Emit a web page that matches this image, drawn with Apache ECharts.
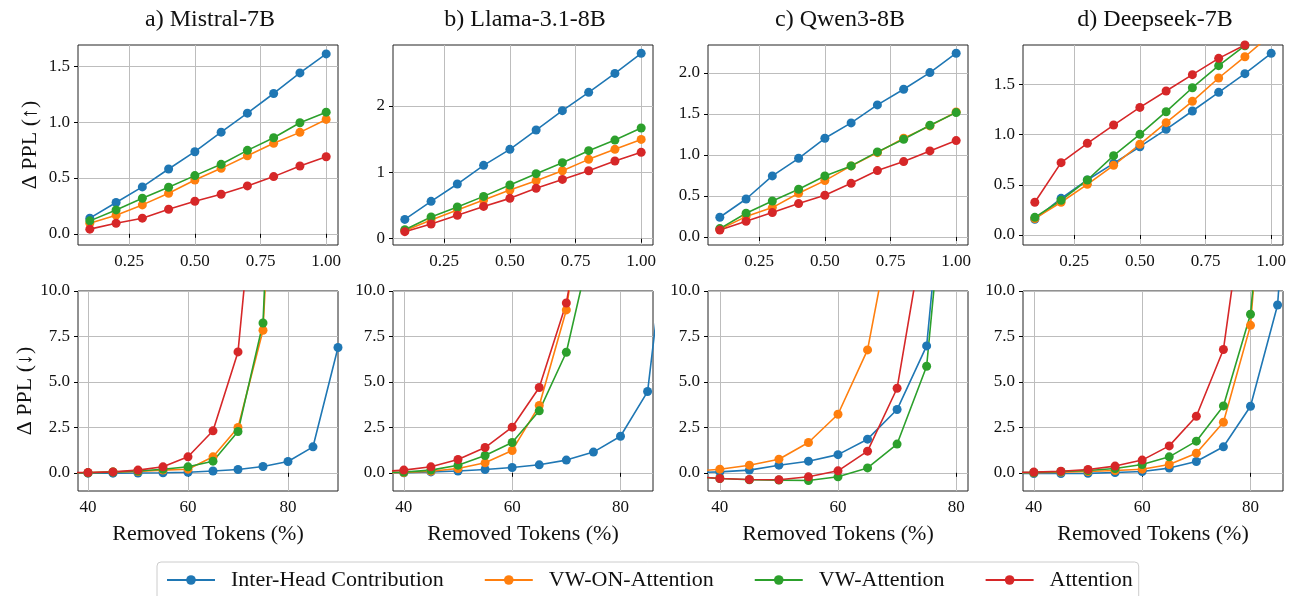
<!DOCTYPE html>
<html>
<head>
<meta charset="utf-8">
<title>PPL vs removed tokens</title>
<script src="https://cdn.jsdelivr.net/npm/echarts@6/dist/echarts.min.js"></script>
<style>
  html, body { margin: 0; padding: 0; background: #fff; }
  #main { width: 1290px; height: 596px; }
</style>
</head>
<body>
<div id="main"></div>
<script>
var FONT = "'Liberation Serif', 'DejaVu Serif', serif";
var COLORS = ['#1f77b4', '#ff7f0e', '#2ca02c', '#d62728'];

var methods = ['Inter-Head Contribution', 'VW-ON-Attention', 'VW-Attention', 'Attention'];
var models = ['a) Mistral-7B', 'b) Llama-3.1-8B', 'c) Qwen3-8B', 'd) Deepseek-7B'];

// top row x values
var topX = [0.1, 0.2, 0.3, 0.4, 0.5, 0.6, 0.7, 0.8, 0.9, 1.0];
// bottom row x values, removed tokens (%)
var bottomX = [35, 40, 45, 50, 55, 60, 65, 70, 75, 80, 85, 90];

// top row, ΔPPL (↑)
var mistralTopInter = [0.14, 0.28, 0.42, 0.58, 0.735, 0.91, 1.08, 1.256, 1.44, 1.61];
var mistralTopVwOn  = [0.095, 0.167, 0.259, 0.363, 0.482, 0.586, 0.699, 0.81, 0.908, 1.024];
var mistralTopVw    = [0.116, 0.214, 0.318, 0.417, 0.521, 0.622, 0.747, 0.86, 0.994, 1.089];
var mistralTopAttn  = [0.042, 0.095, 0.14, 0.22, 0.292, 0.354, 0.429, 0.512, 0.607, 0.69];

var llamaTopInter = [0.291, 0.563, 0.824, 1.106, 1.347, 1.638, 1.93, 2.206, 2.492, 2.794];
var llamaTopVwOn  = [0.121, 0.281, 0.432, 0.583, 0.734, 0.874, 1.025, 1.196, 1.347, 1.497];
var llamaTopVw    = [0.136, 0.327, 0.477, 0.638, 0.809, 0.98, 1.146, 1.327, 1.487, 1.668];
var llamaTopAttn  = [0.106, 0.221, 0.352, 0.487, 0.608, 0.759, 0.894, 1.025, 1.171, 1.302];

var qwenTopInter = [0.24, 0.463, 0.744, 0.959, 1.203, 1.39, 1.61, 1.801, 2.004, 2.24];
var qwenTopVwOn  = [0.093, 0.248, 0.358, 0.533, 0.687, 0.866, 1.028, 1.203, 1.354, 1.524];
var qwenTopVw    = [0.102, 0.289, 0.439, 0.581, 0.744, 0.866, 1.037, 1.191, 1.362, 1.516];
var qwenTopAttn  = [0.085, 0.191, 0.297, 0.407, 0.508, 0.654, 0.809, 0.919, 1.049, 1.175];

var deepseekTopInter = [0.156, 0.365, 0.548, 0.714, 0.88, 1.053, 1.236, 1.422, 1.608, 1.811];
var deepseekTopVwOn  = [0.163, 0.326, 0.505, 0.694, 0.904, 1.12, 1.332, 1.565, 1.777, 2.0];
var deepseekTopVw    = [0.176, 0.346, 0.548, 0.791, 1.003, 1.229, 1.468, 1.688, 1.887, 2.1];
var deepseekTopAttn  = [0.326, 0.721, 0.914, 1.096, 1.272, 1.435, 1.598, 1.761, 1.894, 2.05];

// bottom row, ΔPPL (↓)  -- values past the top of the plot are only there so the line leaves the frame
var mistralBotInter = [-0.02, -0.02, -0.02, -0.01, 0.0, 0.03, 0.1, 0.18, 0.35, 0.62, 1.43, 6.89];
var mistralBotVwOn  = [0.0, 0.0, 0.05, 0.07, 0.15, 0.2, 0.88, 2.49, 7.84, 35];
var mistralBotVw    = [0.0, 0.0, 0.04, 0.1, 0.2, 0.33, 0.64, 2.27, 8.24, 40];
var mistralBotAttn  = [0.01, 0.02, 0.05, 0.15, 0.33, 0.88, 2.31, 6.65, 21];

var llamaBotInter = [0.0, 0.0, 0.05, 0.1, 0.18, 0.29, 0.44, 0.7, 1.14, 2.01, 4.47, 17];
var llamaBotVwOn  = [0.0, 0.02, 0.09, 0.24, 0.55, 1.23, 3.7, 8.96, 19.5];
var llamaBotVw    = [0.02, 0.04, 0.15, 0.42, 0.95, 1.67, 3.41, 6.63, 13.1];
var llamaBotAttn  = [0.05, 0.15, 0.33, 0.73, 1.39, 2.51, 4.69, 9.34, 17.6];

var qwenBotInter = [0.0, 0.05, 0.15, 0.42, 0.64, 1.0, 1.85, 3.48, 6.98, 24];
var qwenBotVwOn  = [0.07, 0.2, 0.42, 0.75, 1.67, 3.22, 6.76, 15.3];
var qwenBotVw    = [-0.2, -0.31, -0.38, -0.4, -0.42, -0.22, 0.27, 1.58, 5.86, 23];
var qwenBotAttn  = [-0.19, -0.31, -0.37, -0.38, -0.22, 0.11, 1.19, 4.65, 14.2];

var deepseekBotInter = [-0.04, -0.04, -0.04, -0.03, 0.02, 0.07, 0.26, 0.62, 1.43, 3.66, 9.23, 30];
var deepseekBotVwOn  = [0.0, 0.0, 0.04, 0.07, 0.13, 0.2, 0.46, 1.08, 2.78, 8.11, 27];
var deepseekBotVw    = [0.01, 0.02, 0.07, 0.13, 0.24, 0.46, 0.88, 1.74, 3.68, 8.72, 24.7];
var deepseekBotAttn  = [0.02, 0.04, 0.09, 0.18, 0.37, 0.7, 1.48, 3.11, 6.78, 17.5];

var topRows = [
  [mistralTopInter, mistralTopVwOn, mistralTopVw, mistralTopAttn],
  [llamaTopInter, llamaTopVwOn, llamaTopVw, llamaTopAttn],
  [qwenTopInter, qwenTopVwOn, qwenTopVw, qwenTopAttn],
  [deepseekTopInter, deepseekTopVwOn, deepseekTopVw, deepseekTopAttn]
];
var bottomRows = [
  [mistralBotInter, mistralBotVwOn, mistralBotVw, mistralBotAttn],
  [llamaBotInter, llamaBotVwOn, llamaBotVw, llamaBotAttn],
  [qwenBotInter, qwenBotVwOn, qwenBotVw, qwenBotAttn],
  [deepseekBotInter, deepseekBotVwOn, deepseekBotVw, deepseekBotAttn]
];

// axis ticks
var topXTicks = [0.25, 0.5, 0.75, 1.0];
var topYTicks = [[0, 0.5, 1, 1.5], [0, 1, 2], [0, 0.5, 1, 1.5, 2], [0, 0.5, 1, 1.5]];
var topYDigits = [1, 0, 1, 1];
var topYRange = [[-0.1, 1.69], [-0.095, 2.92], [-0.098, 2.34], [-0.1, 1.894]];
var bottomXTicks = [40, 60, 80];
var bottomXMax = [90, 86, 82, 86];
var bottomYTicks = [0, 2.5, 5, 7.5, 10];

var panelLeft = [78, 393, 708, 1023];
var panelWidth = 260;

function pairs(xs, ys) {
  var out = [];
  for (var i = 0; i < ys.length; i++) {
    out.push([xs[i], ys[i]]);
  }
  return out;
}

function makeAxis(gridIndex, min, max, ticks, digits) {
  return {
    type: 'value',
    gridIndex: gridIndex,
    min: min,
    max: max,
    axisLine: { show: false },
    axisTick: { show: true, customValues: ticks, length: 4, lineStyle: { color: '#000', width: 1 } },
    axisLabel: {
      customValues: ticks,
      margin: 8,
      color: '#111',
      fontFamily: FONT,
      fontSize: 17,
      formatter: function (v) { return Number(v).toFixed(digits); }
    },
    splitLine: { show: true, lineStyle: { color: '#bdbdbd', width: 1 } }
  };
}

function yName(axis, text) {
  axis.name = text;
  axis.nameLocation = 'middle';
  axis.nameRotate = 90;
  axis.nameGap = 37;
  axis.nameTextStyle = { fontFamily: FONT, fontSize: 22, color: '#111' };
}

function lineSeries(name, color, gridIndex, data) {
  return {
    name: name,
    type: 'line',
    xAxisIndex: gridIndex,
    yAxisIndex: gridIndex,
    data: data,
    clip: true,
    symbol: 'circle',
    symbolSize: 9,
    showSymbol: true,
    color: color,
    lineStyle: { width: 1.6, color: color },
    itemStyle: { color: color },
    animation: false
  };
}

var grids = [];
var xAxes = [];
var yAxes = [];
var series = [];
var titles = [];

for (var m = 0; m < 4; m++) {
  titles.push({
    text: models[m],
    left: panelLeft[m] + panelWidth / 2 - 3,
    top: 3,
    textAlign: 'center',
    textStyle: { fontFamily: FONT, fontSize: 24, fontWeight: 'normal', color: '#111' }
  });

  // top panel
  var g = grids.length;
  grids.push({ left: panelLeft[m], width: panelWidth, top: 45, height: 200,
    show: true, borderColor: '#222', borderWidth: 1, backgroundColor: 'transparent' });
  xAxes.push(makeAxis(g, 0.055, 1.045, topXTicks, 2));
  var ya = makeAxis(g, topYRange[m][0], topYRange[m][1], topYTicks[m], topYDigits[m]);
  if (m === 0) yName(ya, 'Δ PPL (↑)');
  yAxes.push(ya);
  for (var k = 0; k < 4; k++) {
    series.push(lineSeries(methods[k], COLORS[k], g, pairs(topX, topRows[m][k])));
  }

  // bottom panel
  g = grids.length;
  grids.push({ left: panelLeft[m], width: panelWidth, top: 291, height: 200,
    show: true, borderColor: '#222', borderWidth: 1, backgroundColor: 'transparent' });
  var xb = makeAxis(g, 38, bottomXMax[m], bottomXTicks, 0);
  xb.name = 'Removed Tokens (%)';
  xb.nameLocation = 'middle';
  xb.nameGap = 32;
  xb.nameTextStyle = { fontFamily: FONT, fontSize: 22, color: '#111' };
  xAxes.push(xb);
  var yb = makeAxis(g, -1, 10, bottomYTicks, 1);
  if (m === 0) yName(yb, 'Δ PPL (↓)');
  yAxes.push(yb);
  for (var k2 = 0; k2 < 4; k2++) {
    series.push(lineSeries(methods[k2], COLORS[k2], g, pairs(bottomX, bottomRows[m][k2])));
  }
}

var chart = echarts.init(document.getElementById('main'), null, { renderer: 'canvas' });
chart.setOption({
  animation: false,
  title: titles,
  grid: grids,
  xAxis: xAxes,
  yAxis: yAxes,
  series: series,
  legend: {
    data: methods,
    left: 157,
    top: 562,
    itemWidth: 48,
    itemHeight: 12,
    itemGap: 40,
    padding: [7, 6, 12, 9],
    borderColor: '#cccccc',
    borderWidth: 1,
    borderRadius: 4,
    textStyle: { fontFamily: FONT, fontSize: 22, color: '#111', padding: [0, 0, 0, 11] }
  }
});
</script>
</body>
</html>
